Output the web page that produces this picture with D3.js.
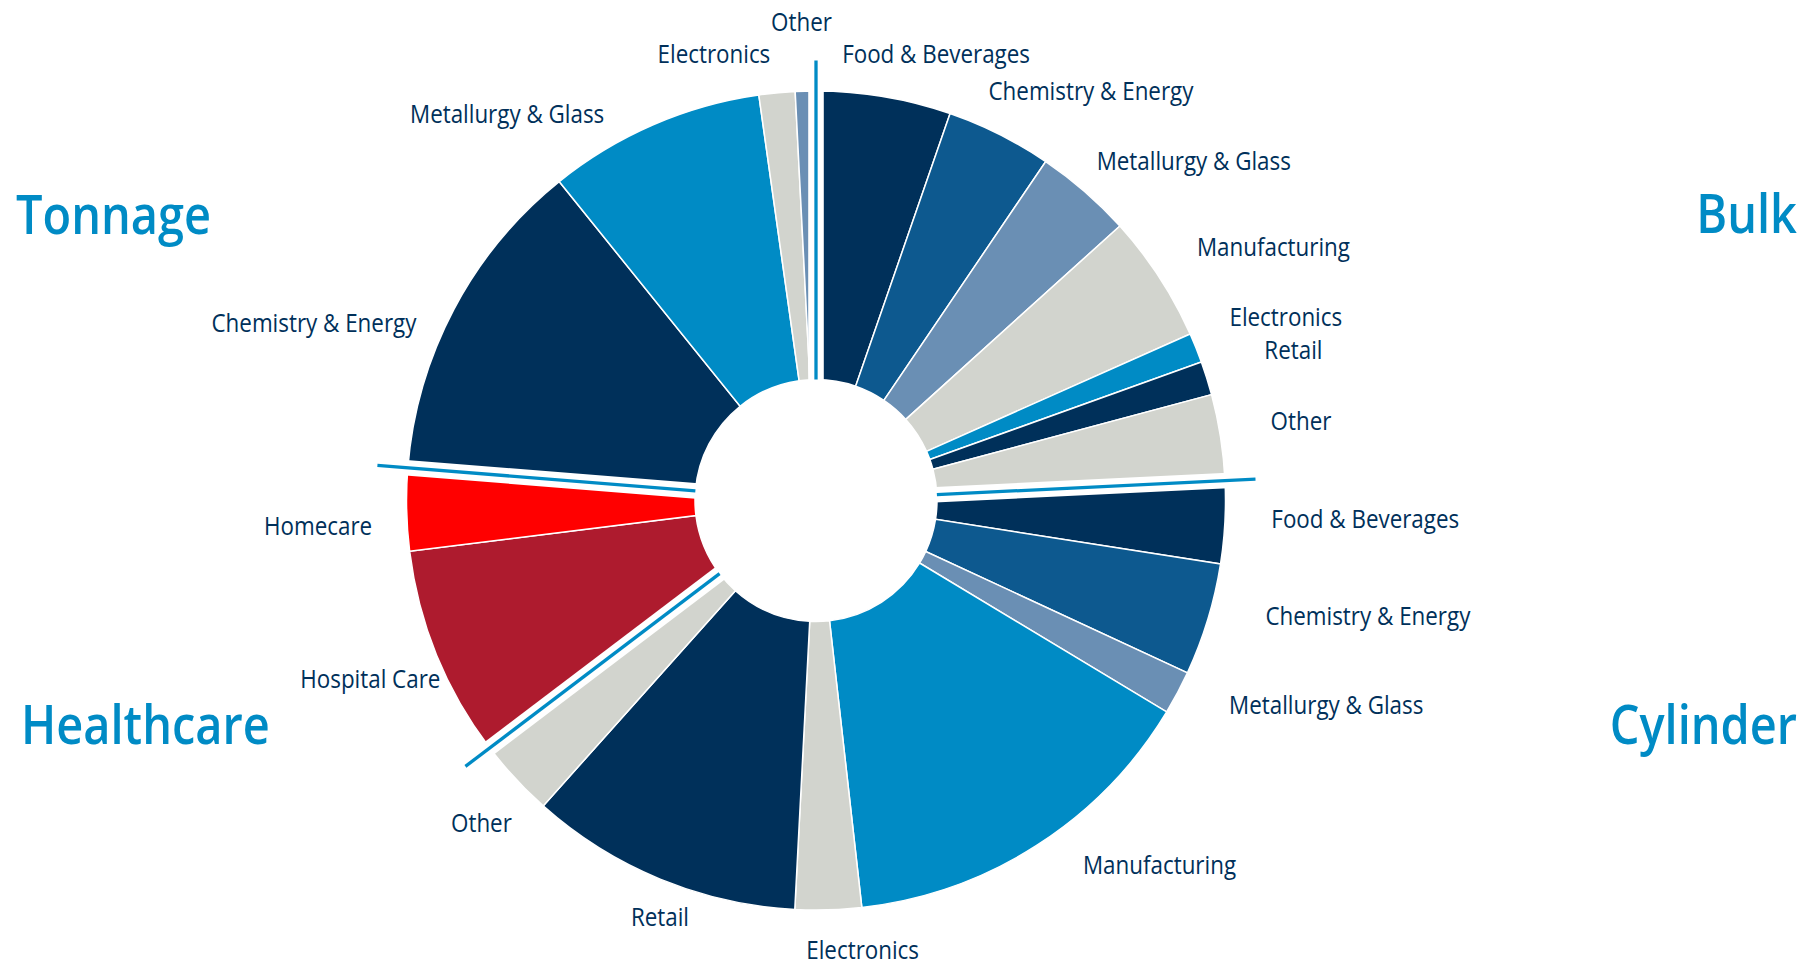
<!DOCTYPE html>
<html><head><meta charset="utf-8">
<script src="https://cdn.jsdelivr.net/npm/d3@7"></script>
<style>html,body{margin:0;padding:0;background:#fff;overflow:hidden} svg{display:block}</style>
</head><body><svg id="chart" width="1812" height="969"></svg>
<script>
// ---------- DATA ----------
const groupNames = ["Bulk", "Cylinder", "Healthcare", "Tonnage"];
const bulkSegments = ["Food & Beverages", "Chemistry & Energy", "Metallurgy & Glass", "Manufacturing", "Electronics", "Retail", "Other"];
const bulkValues = [5.31, 4.17, 3.83, 5.03, 1.17, 1.33, 3.39];
const cylinderSegments = ["Food & Beverages", "Chemistry & Energy", "Metallurgy & Glass", "Manufacturing", "Electronics", "Retail", "Other"];
const cylinderValues = [3.25, 4.44, 1.72, 14.58, 2.61, 10.78, 3.07];
const healthcareSegments = ["Hospital Care", "Homecare"];
const healthcareValues = [8.35, 3.25];
const tonnageSegments = ["Chemistry & Energy", "Metallurgy & Glass", "Electronics", "Other"];
const tonnageValues = [12.94, 8.56, 1.42, 0.81];

// ---------- STYLE / LAYOUT ----------
const NAVY = "#00305a", DSTEEL = "#0d598f", LSTEEL = "#6a8fb4", GREY = "#d2d4ce",
      MBLUE = "#008bc5", DRED = "#ae1b2e", RED = "#ff0000";
const groupColors = {
  Bulk: [NAVY, DSTEEL, LSTEEL, GREY, MBLUE, NAVY, GREY],
  Cylinder: [NAVY, DSTEEL, LSTEEL, MBLUE, GREY, NAVY, GREY],
  Healthcare: [DRED, RED],
  Tonnage: [NAVY, MBLUE, GREY, LSTEEL]
};
// label placement: [text-anchor, dx, dy] relative to the radial anchor point
const labelLayout = [
  ["middle", 45, -1], ["start", -30, -6], ["start", -16, 1], ["start", 2, -7],
  ["start", -6, -15], ["start", 17, -16], ["start", 8, -10],
  ["start", 4, -6], ["start", 17, -16], ["start", 14, -8], ["start", 23, -16],
  ["middle", 33, -3], ["middle", 16, -2], ["end", 28, 16],
  ["end", 43, 8], ["end", 8, 15],
  ["end", 0, 33], ["end", -32, 28], ["middle", -59, 3], ["middle", -3, -27]
];

const W = 1812, H = 969;
const cx = 816, cy = 500.5, R = 409.5, r0 = 121, rLabel = 452;

const rows = [];
const groupData = {
  Bulk: [bulkSegments, bulkValues],
  Cylinder: [cylinderSegments, cylinderValues],
  Healthcare: [healthcareSegments, healthcareValues],
  Tonnage: [tonnageSegments, tonnageValues]
};
groupNames.forEach(g => {
  const [segs, vals] = groupData[g];
  segs.forEach((s, i) => rows.push({group: g, segment: s, value: vals[i], color: groupColors[g][i]}));
});

const svg = d3.select("#chart");
const root = svg.append("g").attr("transform", `translate(${cx},${cy})`);

const pie = d3.pie().sort(null).value(d => d.value).startAngle(0).endAngle(2 * Math.PI);
const arcs = pie(rows);
const arc = d3.arc().innerRadius(r0).outerRadius(R);

root.selectAll("path.slice").data(arcs).join("path")
  .attr("class", "slice")
  .attr("d", arc)
  .attr("fill", d => d.data.color)
  .attr("stroke", "#fff")
  .attr("stroke-width", 1.5)
  .attr("stroke-linejoin", "miter");

// group boundaries
const boundaries = groupNames.map(g => arcs.find(a => a.data.group === g).startAngle);
const polar = (a, r) => [r * Math.sin(a), -r * Math.cos(a)];

root.selectAll("line.gap").data(boundaries).join("line")
  .attr("class", "gap")
  .attr("x1", 0).attr("y1", 0)
  .attr("x2", a => polar(a, R + 8)[0]).attr("y2", a => polar(a, R + 8)[1])
  .attr("stroke", "#fff").attr("stroke-width", 15.6);

root.selectAll("line.sep").data(boundaries).join("line")
  .attr("class", "sep")
  .attr("x1", a => polar(a, r0)[0]).attr("y1", a => polar(a, r0)[1])
  .attr("x2", a => polar(a, 440)[0]).attr("y2", a => polar(a, 440)[1])
  .attr("stroke", MBLUE).attr("stroke-width", 3.3);

// inner hole (clean)
root.append("circle").attr("r", r0 - 0.5).attr("fill", "#fff");

// ---------- LABELS ----------
const labelFont = "'Open Sans', 'Noto Sans', sans-serif";
const probe = svg.append("text").attr("font-family", labelFont).attr("font-size", 26).text("Chemistry & Energy");
const kLabel = 205 / probe.node().getComputedTextLength();
probe.remove();

const labels = svg.append("g");
arcs.forEach((d, i) => {
  const mid = (d.startAngle + d.endAngle) / 2;
  const [px, py] = polar(mid, rLabel);
  const [anchor, dx, dy] = labelLayout[i];
  labels.append("text")
    .attr("transform", `translate(${cx + px + dx},${cy + py + 9.3 + dy}) scale(${kLabel},1)`)
    .attr("text-anchor", anchor)
    .attr("font-family", labelFont)
    .attr("font-size", 26)
    .attr("fill", NAVY)
    .text(d.data.segment);
});

// ---------- GROUP TITLES ----------
const titleFont = "'Open Sans', 'Noto Sans', sans-serif";
const probe2 = svg.append("text").attr("font-family", titleFont).attr("font-size", 54).attr("font-weight", 600).text("Tonnage");
const kTitle = 195 / probe2.node().getComputedTextLength();
probe2.remove();
const titlePos = {
  Tonnage: [16, 234, "start"],
  Bulk: [1797, 233, "end"],
  Healthcare: [21, 744, "start"],
  Cylinder: [1797, 744, "end"]
};
groupNames.forEach(g => {
  const [x, y, anchor] = titlePos[g];
  svg.append("text")
    .attr("transform", `translate(${x},${y}) scale(${kTitle},1)`)
    .attr("text-anchor", anchor)
    .attr("font-family", titleFont)
    .attr("font-size", 54)
    .attr("font-weight", 600)
    .attr("fill", MBLUE)
    .text(g);
});
</script>
</body></html>
